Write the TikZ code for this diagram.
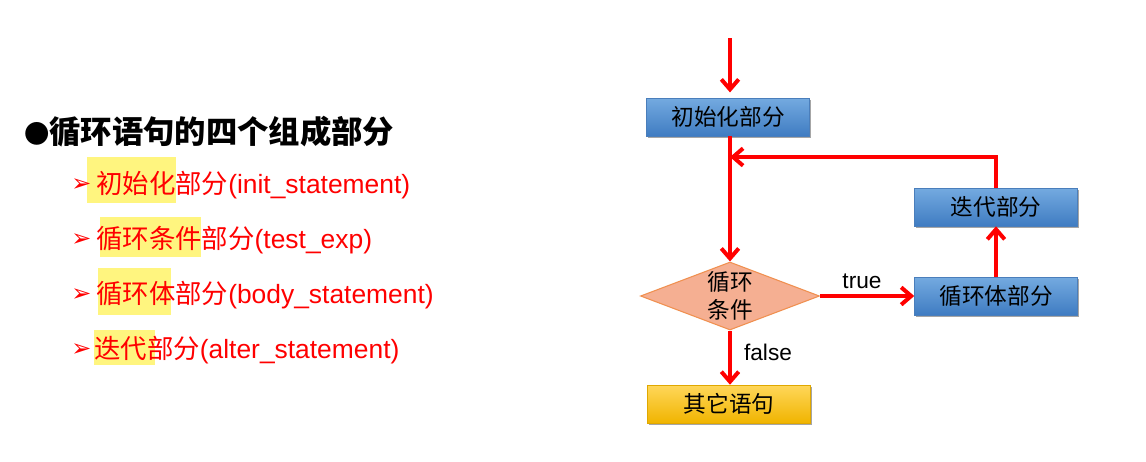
\documentclass[tikz,border=0pt]{standalone}
\usepackage{fontspec}
\setmainfont{Liberation Sans}
\newfontfamily\cjk{Noto Sans CJK SC}
\newfontfamily\symf{DejaVu Sans}
\usetikzlibrary{arrows.meta,shapes.geometric,shadows}
\definecolor{blueA}{HTML}{74AAE0}
\definecolor{blueB}{HTML}{3F7CC2}
\definecolor{blueC}{HTML}{4A7EBB}
\definecolor{goldA}{HTML}{FFD75A}
\definecolor{goldB}{HTML}{F0B400}
\definecolor{goldC}{HTML}{E0A800}
\definecolor{salmon}{HTML}{F5AF92}
\definecolor{salmonline}{HTML}{F09050}
\definecolor{hl}{HTML}{FFF57F}
\tikzset{
  flowbox/.style={rectangle, minimum width=122.25pt, minimum height=28.5pt, inner sep=0pt,
    font=\cjk\fontsize{17}{20}\selectfont, text=black,
    drop shadow={shadow xshift=1.2pt, shadow yshift=-1.8pt, opacity=0.35, fill=black}},
  bluebox/.style={flowbox, top color=blueA, bottom color=blueB, draw=blueC, line width=0.4pt},
  goldbox/.style={flowbox, top color=goldA, bottom color=goldB, draw=goldC, line width=0.4pt},
  condshape/.style={diamond, aspect=2.63, minimum width=134.25pt, minimum height=51pt, inner sep=0pt,
    fill=salmon, draw=salmonline, line width=0.8pt},
  arr/.style={draw=red, line width=3pt, -{Straight Barb[length=7.5pt,width=13pt]}},
  lbl/.style={font=\fontsize{17}{20}\selectfont, text=black, inner sep=0pt},
  itemtext/.style={anchor=base west, inner sep=0pt, text=red, font=\fontsize{19.8}{22}\selectfont},
  itemmark/.style={anchor=base west, inner sep=0pt, text=red, font=\symf\fontsize{18}{20}\selectfont},
  hlbox/.style={fill=hl}
}
\begin{document}
\begin{tikzpicture}[x=0.75pt,y=-0.75pt]
\useasboundingbox (0,0) rectangle (1146,461);
\fill[white] (0,0) rectangle (1146,461);

% left text
\node[anchor=base west, inner sep=0pt, font=\cjk\bfseries\fontsize{23.5}{28}\selectfont] (head) at (24,143) {{\fontsize{19}{20}\selectfont ●}循环语句的四个组成部分};

\fill[hlbox] (87,157) rectangle (176,203);
\fill[hlbox] (100,217) rectangle (201,257);
\fill[hlbox] (98,268) rectangle (171,315);
\fill[hlbox] (94,330) rectangle (155,365);

\node[itemmark] (m1) at (71,191) {➢};
\node[itemmark] (m2) at (71,246) {➢};
\node[itemmark] (m3) at (71,301) {➢};
\node[itemmark] (m4) at (71,356) {➢};

\node[itemtext] (t1) at (96,193) {{\cjk 初始化部分}(init\_statement)};
\node[itemtext] (t2) at (96,248) {{\cjk 循环条件部分}(test\_exp)};
\node[itemtext] (t3) at (96,303) {{\cjk 循环体部分}(body\_statement)};
\node[itemtext] (t4) at (94,358) {{\cjk 迭代部分}(alter\_statement)};

% flowchart
\coordinate (start) at (730,38);
\coordinate (join) at (730,157);
\node[bluebox] (init) at (728,117) {初始化部分};
\node[bluebox] (iter) at (996,207) {迭代部分};
\node[bluebox] (body) at (996,296) {循环体部分};
\node[condshape] (cond) at (730,296) {};
\node[align=center, font=\cjk\fontsize{17}{21}\selectfont, inner sep=0pt] (condtxt) at (cond) {循环\\条件};
\node[goldbox] (other) at (729,404) {其它语句};

\draw[arr, shorten >=4pt] (start) -- (init.north -| start);
\draw[arr] (init.south -| start) -- (cond.north);
\draw[arr] (iter.north) |- (join);
\draw[arr] (cond.east) -- (body.west);
\draw[arr] (body.north) -- (iter.south);
\draw[arr] (cond.south) -- (other.north -| cond.south);

\node[lbl] (ltrue) at (862,281) {true};
\node[lbl] (lfalse) at (768,352) {false};
\end{tikzpicture}
\end{document}
